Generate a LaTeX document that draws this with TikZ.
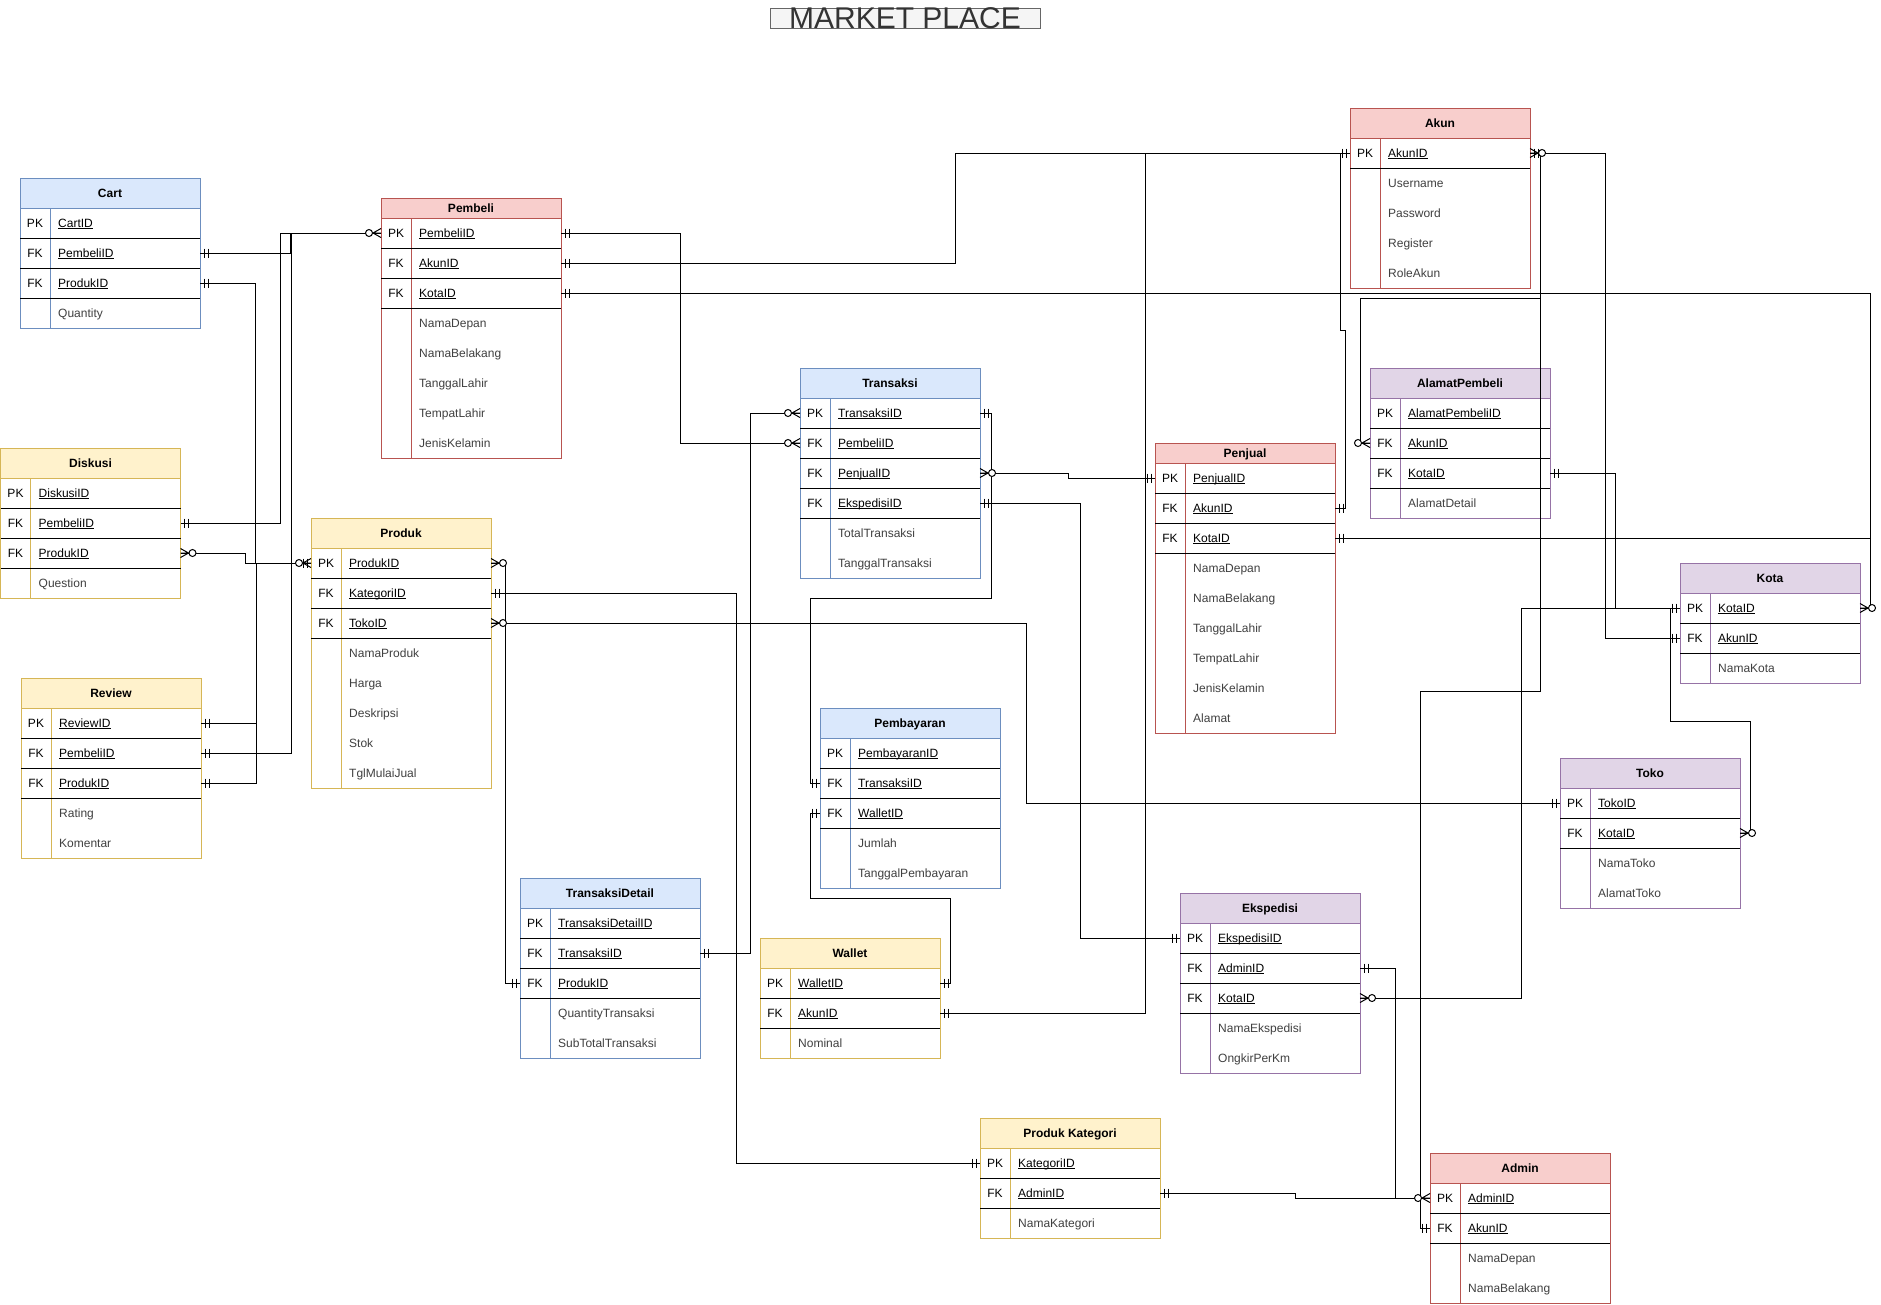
\documentclass[tikz,border=0pt]{standalone}
\usepackage{fontspec}
\setmainfont{Liberation Sans}
\definecolor{blueF}{HTML}{DAE8FC}\definecolor{blueS}{HTML}{6C8EBF}
\definecolor{redF}{HTML}{F8CECC}\definecolor{redS}{HTML}{B85450}
\definecolor{yelF}{HTML}{FFF2CC}\definecolor{yelS}{HTML}{D6B656}
\definecolor{purF}{HTML}{E1D5E7}\definecolor{purS}{HTML}{9673A6}
\definecolor{attrC}{HTML}{404040}
\definecolor{titleF}{HTML}{F5F5F5}\definecolor{titleS}{HTML}{666666}\definecolor{titleT}{HTML}{333333}
\newsavebox\ulbox
\newcommand\keyul[1]{\sbox\ulbox{#1}\rlap{\rule[-1.7pt]{\wd\ulbox}{0.8pt}}\usebox\ulbox}
\tikzset{
  conn/.style={draw=black, line width=1pt},
  rowbox/.style={inner sep=0, outer sep=0, minimum width=180, minimum height=30, anchor=north west},
  keylbl/.style={anchor=base, inner sep=0, font=\fontsize{12}{14}\selectfont, text=black},
  keyname/.style={anchor=base west, inner sep=0, font=\fontsize{12}{14}\selectfont, text=black},
  attrname/.style={anchor=base west, inner sep=0, font=\fontsize{12}{14}\selectfont, text=attrC},
  hdrtext/.style={anchor=base, inner sep=0, font=\fontsize{12}{14}\selectfont\bfseries, text=black},
}
% #1 id, #2 x, #3 y, #4 header h, #5 fill, #6 stroke, #7 title, #8 rows, #9 number of rows
\newcommand\entity[9]{%
  \pgfmathsetmacro\eb{#3+#4+30*#9}%
  \path[draw=#6, fill=white, line width=1pt] (#2,#3) rectangle ({#2+180},\eb);
  \path[draw=#6, fill=#5, line width=1pt] (#2,#3) rectangle ({#2+180},{#3+#4});
  \node[hdrtext] (#1-t) at ({#2+90},{#3+#4/2+4.3}) {#7};
  \draw[#6, line width=1pt] ({#2+30},{#3+#4}) -- ({#2+30},\eb);
  \foreach \rk/\rn/\rt [count=\ri] in {#8} {%
    \pgfmathsetmacro\ry{#3+#4+30*(\ri-1)}%
    \node[rowbox] (#1-\ri) at (#2,\ry) {};
    \node[keylbl] (#1-\ri-k) at ({#2+15},{\ry+19.3}) {\rk};
    \if k\rt
      \node[keyname] (#1-\ri-n) at ({#2+38},{\ry+19.3}) {\keyul{\rn}};
      \draw[black, line width=1pt] (#2,{\ry+30}) -- ({#2+180},{\ry+30});
    \else
      \node[attrname] (#1-\ri-n) at ({#2+38},{\ry+19.3}) {\rn};
    \fi
  }%
}
\newcommand\mkone[2]{\begin{scope}[shift={(#1)}, xscale=#2]\draw[conn] (4,-4.5) -- (4,4.5) (8,-4.5) -- (8,4.5);\end{scope}}
\newcommand\mkzm[2]{\begin{scope}[shift={(#1)}, xscale=#2]\draw[conn] (0,-4.5) -- (8,0) -- (0,4.5) (0,0) -- (8,0);\draw[conn, fill=white] (12,0) circle (3.5);\end{scope}}
\begin{document}
\begin{tikzpicture}[x=1pt, y=-1pt]
\useasboundingbox (0,0) rectangle (1881,1304);
\fill[white] (0,0) rectangle (1881,1304);
% title
\node[draw=titleS, fill=titleF, line width=1pt, minimum width=270, minimum height=20, inner sep=0] (titlebox) at (905,18) {};
\node[font=\fontsize{30}{30}\selectfont, text=titleT, inner sep=0] (title) at (905,18) {MARKET PLACE};
% entities
\entity{cart}{20}{178}{30}{blueF}{blueS}{Cart}{PK/CartID/k, FK/PembeliID/k, FK/ProdukID/k, /Quantity/a}{4}
\entity{pembeli}{381}{198}{20}{redF}{redS}{Pembeli}{PK/PembeliID/k, FK/AkunID/k, FK/KotaID/k, /NamaDepan/a, /NamaBelakang/a, /TanggalLahir/a, /TempatLahir/a, /JenisKelamin/a}{8}
\entity{diskusi}{0.5}{448}{30}{yelF}{yelS}{Diskusi}{PK/DiskusiID/k, FK/PembeliID/k, FK/ProdukID/k, /Question/a}{4}
\entity{produk}{311}{518}{30}{yelF}{yelS}{Produk}{PK/ProdukID/k, FK/KategoriID/k, FK/TokoID/k, /NamaProduk/a, /Harga/a, /Deskripsi/a, /Stok/a, /TglMulaiJual/a}{8}
\entity{review}{21}{678}{30}{yelF}{yelS}{Review}{PK/ReviewID/k, FK/PembeliID/k, FK/ProdukID/k, /Rating/a, /Komentar/a}{5}
\entity{transaksi}{800}{368}{30}{blueF}{blueS}{Transaksi}{PK/TransaksiID/k, FK/PembeliID/k, FK/PenjualID/k, FK/EkspedisiID/k, /TotalTransaksi/a, /TanggalTransaksi/a}{6}
\entity{akun}{1350}{108}{30}{redF}{redS}{Akun}{PK/AkunID/k, /Username/a, /Password/a, /Register/a, /RoleAkun/a}{5}
\entity{alamat}{1370}{368}{30}{purF}{purS}{AlamatPembeli}{PK/AlamatPembeliID/k, FK/AkunID/k, FK/KotaID/k, /AlamatDetail/a}{4}
\entity{penjual}{1155}{443}{20}{redF}{redS}{Penjual}{PK/PenjualID/k, FK/AkunID/k, FK/KotaID/k, /NamaDepan/a, /NamaBelakang/a, /TanggalLahir/a, /TempatLahir/a, /JenisKelamin/a, /Alamat/a}{9}
\entity{kota}{1680}{563}{30}{purF}{purS}{Kota}{PK/KotaID/k, FK/AkunID/k, /NamaKota/a}{3}
\entity{toko}{1560}{758}{30}{purF}{purS}{Toko}{PK/TokoID/k, FK/KotaID/k, /NamaToko/a, /AlamatToko/a}{4}
\entity{pembayaran}{820}{708}{30}{blueF}{blueS}{Pembayaran}{PK/PembayaranID/k, FK/TransaksiID/k, FK/WalletID/k, /Jumlah/a, /TanggalPembayaran/a}{5}
\entity{tdetail}{520}{878}{30}{blueF}{blueS}{TransaksiDetail}{PK/TransaksiDetailID/k, FK/TransaksiID/k, FK/ProdukID/k, /QuantityTransaksi/a, /SubTotalTransaksi/a}{5}
\entity{wallet}{760}{938}{30}{yelF}{yelS}{Wallet}{PK/WalletID/k, FK/AkunID/k, /Nominal/a}{3}
\entity{ekspedisi}{1180}{893}{30}{purF}{purS}{Ekspedisi}{PK/EkspedisiID/k, FK/AdminID/k, FK/KotaID/k, /NamaEkspedisi/a, /OngkirPerKm/a}{5}
\entity{pkat}{980}{1118}{30}{yelF}{yelS}{Produk Kategori}{PK/KategoriID/k, FK/AdminID/k, /NamaKategori/a}{3}
\entity{admin}{1430}{1153}{30}{redF}{redS}{Admin}{PK/AdminID/k, FK/AkunID/k, /NamaDepan/a, /NamaBelakang/a}{4}
% connectors
\draw[conn] (cart-2.east) -- ++(90,0) |- (pembeli-1.west);
\draw[conn] (diskusi-2.east) -- ++(100,0) |- (pembeli-1.west);
\draw[conn] (review-2.east) -- ++(90,0) |- (pembeli-1.west);
\draw[conn] (cart-3.east) -- ++(55,0) |- (produk-1.west);
\draw[conn] (review-1.east) -- ++(55,0) |- (produk-1.west);
\draw[conn] (review-3.east) -- ++(55,0) |- (produk-1.west);
\draw[conn] (diskusi-3.east) -- ++(65,0) |- (produk-1.west);
\draw[conn] (pembeli-1.east) -- ++(119,0) |- (transaksi-2.west);
\draw[conn] (pembeli-2.east) -- ++(394,0) |- (akun-1.west);
\draw[conn] (pembeli-3.east) -- ++(1309,0) |- (kota-1.east);
\draw[conn] (penjual-3.east) -- ++(535,0) |- (kota-1.east);
\draw[conn] (wallet-2.east) -- ++(205,0) |- (akun-1.west);
\draw[conn] (alamat-2.west) -- ++(-10,0) -- ++(0,-145) -- ++(180,0) |- (akun-1.east);
\draw[conn] (admin-2.west) -- ++(-10,0) -- ++(0,-537) -- ++(120,0) |- (akun-1.east);
\draw[conn] (kota-2.west) -- ++(-75,0) |- (akun-1.east);
\draw[conn] (penjual-2.east) -- ++(10,0) -- ++(0,-178) -- ++(-5,0) |- (akun-1.west);
\draw[conn] (alamat-3.east) -- ++(65,0) |- (kota-1.west);
\draw[conn] (ekspedisi-3.east) -- ++(161,0) |- (kota-1.west);
\draw[conn] (toko-2.east) -- ++(10,0) -- ++(0,-112) -- ++(-80,0) |- (kota-1.west);
\draw[conn] (transaksi-1.east) -- ++(11,0) -- ++(0,185) -- ++(-181,0) |- (pembayaran-2.west);
\draw[conn] (tdetail-2.east) -- ++(50,0) |- (transaksi-1.west);
\draw[conn] (transaksi-3.east) -- ++(88,0) |- (penjual-1.west);
\draw[conn] (transaksi-4.east) -- ++(100,0) |- (ekspedisi-1.west);
\draw[conn] (tdetail-3.west) -- ++(-15,0) |- (produk-1.east);
\draw[conn] (produk-3.east) -- ++(535,0) |- (toko-1.west);
\draw[conn] (produk-2.east) -- ++(245,0) |- (pkat-1.west);
\draw[conn] (pembayaran-3.west) -- ++(-10,0) -- ++(0,85) -- ++(140,0) |- (wallet-1.east);
\draw[conn] (pkat-2.east) -- ++(135,0) |- (admin-1.west);
\draw[conn] (ekspedisi-2.east) -- ++(35,0) |- (admin-1.west);
% markers
\mkone{cart-2.east}{1}\mkone{cart-3.east}{1}
\mkone{diskusi-2.east}{1}\mkzm{diskusi-3.east}{1}
\mkone{review-1.east}{1}\mkone{review-2.east}{1}\mkone{review-3.east}{1}
\mkzm{pembeli-1.west}{-1}
\mkzm{produk-1.west}{-1}\mkone{produk-1.west}{-1}
\mkone{pembeli-1.east}{1}\mkone{pembeli-2.east}{1}\mkone{pembeli-3.east}{1}
\mkzm{transaksi-2.west}{-1}\mkzm{transaksi-1.west}{-1}
\mkone{transaksi-1.east}{1}\mkzm{transaksi-3.east}{1}\mkone{transaksi-4.east}{1}
\mkone{akun-1.west}{-1}\mkzm{akun-1.east}{1}\mkone{akun-1.east}{1}
\mkzm{alamat-2.west}{-1}\mkone{alamat-3.east}{1}
\mkone{penjual-1.west}{-1}\mkone{penjual-2.east}{1}\mkone{penjual-3.east}{1}
\mkzm{kota-1.east}{1}\mkone{kota-1.west}{-1}\mkone{kota-2.west}{-1}
\mkone{toko-1.west}{-1}\mkzm{toko-2.east}{1}
\mkone{pembayaran-2.west}{-1}\mkone{pembayaran-3.west}{-1}
\mkone{tdetail-2.east}{1}\mkone{tdetail-3.west}{-1}
\mkzm{produk-1.east}{1}\mkone{produk-2.east}{1}\mkzm{produk-3.east}{1}
\mkone{wallet-1.east}{1}\mkone{wallet-2.east}{1}
\mkone{ekspedisi-1.west}{-1}\mkone{ekspedisi-2.east}{1}\mkzm{ekspedisi-3.east}{1}
\mkone{pkat-1.west}{-1}\mkone{pkat-2.east}{1}
\mkzm{admin-1.west}{-1}\mkone{admin-2.west}{-1}
\end{tikzpicture}
\end{document}
